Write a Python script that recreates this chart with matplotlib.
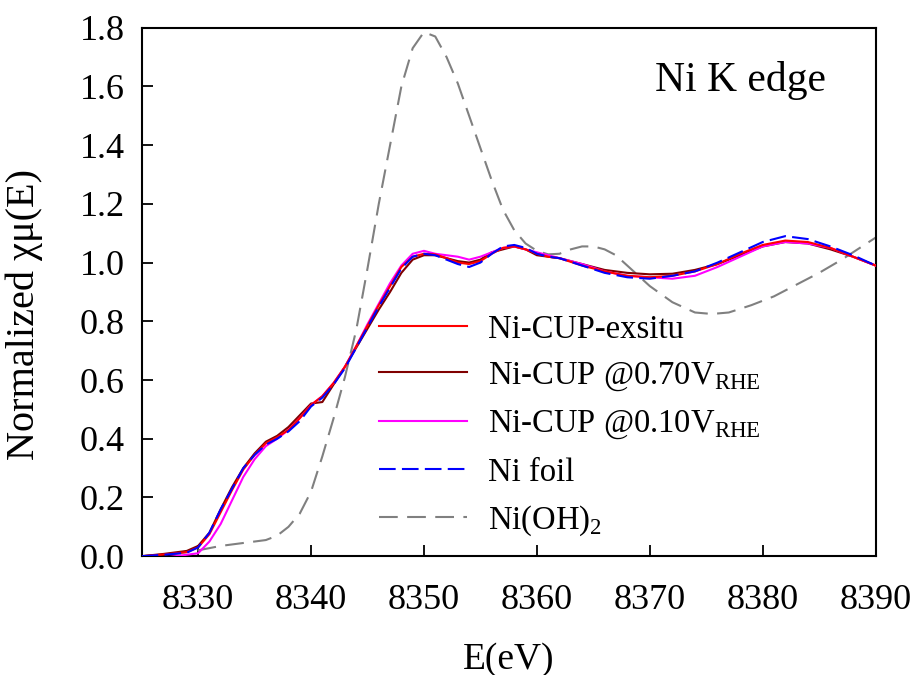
import matplotlib
matplotlib.use('Agg')
import matplotlib.pyplot as plt

plt.rcParams['font.family'] = ['Liberation Serif', 'DejaVu Serif']
plt.rcParams['mathtext.fontset'] = 'custom'
plt.rcParams['mathtext.rm'] = 'Liberation Serif'

# energies for the Ni-CUP samples and Ni foil (eV)
e_cup = [8325, 8327, 8329, 8330, 8331, 8332, 8333, 8334, 8335, 8336, 8337, 8338, 8339,
         8340, 8341, 8342, 8343, 8344, 8345, 8346, 8347, 8348, 8349, 8350, 8351, 8352,
         8353, 8354, 8355, 8356, 8357, 8358, 8359, 8360, 8361, 8362, 8364, 8366, 8368,
         8370, 8372, 8374, 8376, 8378, 8380, 8382, 8384, 8386, 8388, 8390]

mu_foil = [0.0, 0.005, 0.012, 0.03, 0.08, 0.16, 0.23, 0.30, 0.345, 0.38, 0.40, 0.425, 0.46,
           0.51, 0.54, 0.585, 0.64, 0.71, 0.78, 0.85, 0.915, 0.98, 1.02, 1.03, 1.025, 1.01,
           0.995, 0.985, 1.0, 1.03, 1.055, 1.06, 1.05, 1.03, 1.02, 1.015, 0.99, 0.965, 0.95,
           0.945, 0.955, 0.97, 1.0, 1.035, 1.07, 1.09, 1.08, 1.055, 1.025, 0.99]

mu_exsitu = [0.0, 0.006, 0.014, 0.03, 0.075, 0.15, 0.225, 0.295, 0.345, 0.385, 0.405, 0.43, 0.47,
             0.515, 0.545, 0.59, 0.645, 0.715, 0.785, 0.855, 0.92, 0.985, 1.02, 1.03, 1.028, 1.015,
             1.0, 0.995, 1.005, 1.03, 1.05, 1.055, 1.045, 1.03, 1.02, 1.015, 0.99, 0.97, 0.955,
             0.95, 0.955, 0.97, 0.995, 1.03, 1.06, 1.075, 1.07, 1.05, 1.02, 0.99]

mu_070 = [0.0, 0.008, 0.018, 0.035, 0.08, 0.16, 0.235, 0.30, 0.35, 0.39, 0.41, 0.44, 0.48,
          0.52, 0.525, 0.585, 0.645, 0.71, 0.775, 0.84, 0.9, 0.965, 1.01, 1.025, 1.025, 1.015,
          1.005, 1.0, 1.01, 1.035, 1.045, 1.055, 1.045, 1.025, 1.02, 1.015, 0.995, 0.975, 0.965,
          0.96, 0.962, 0.975, 0.995, 1.025, 1.055, 1.07, 1.065, 1.045, 1.02, 0.99]

mu_010 = [0.0, -0.005, 0.005, 0.01, 0.05, 0.11, 0.19, 0.27, 0.33, 0.375, 0.40, 0.43, 0.47,
          0.515, 0.545, 0.59, 0.645, 0.715, 0.79, 0.86, 0.93, 0.99, 1.03, 1.04, 1.03, 1.025,
          1.02, 1.01, 1.02, 1.035, 1.05, 1.055, 1.045, 1.035, 1.025, 1.015, 0.995, 0.97, 0.955,
          0.95, 0.945, 0.955, 0.985, 1.02, 1.055, 1.07, 1.065, 1.05, 1.02, 0.99]

# Ni(OH)2 reference
e_oh = [8325, 8328, 8330, 8332, 8334, 8336, 8337, 8338, 8339, 8340, 8341, 8342, 8343, 8344,
        8345, 8346, 8347, 8348, 8349, 8350, 8351, 8352, 8353, 8354, 8355, 8356, 8357, 8358,
        8359, 8360, 8361, 8362, 8363, 8364, 8365, 8366, 8367, 8368, 8369, 8370, 8372, 8374,
        8375.5, 8377, 8379, 8381, 8383, 8385, 8387, 8389, 8390]
mu_oh = [0.0, 0.008, 0.02, 0.035, 0.045, 0.055, 0.07, 0.1, 0.145, 0.22, 0.34, 0.47, 0.61, 0.77,
         0.98, 1.2, 1.4, 1.6, 1.73, 1.785, 1.77, 1.7, 1.61, 1.5, 1.39, 1.28, 1.18, 1.11,
         1.065, 1.04, 1.028, 1.03, 1.045, 1.055, 1.055, 1.045, 1.025, 0.99, 0.955, 0.92, 0.865,
         0.83, 0.825, 0.83, 0.855, 0.885, 0.925, 0.965, 1.01, 1.06, 1.085]

labels = ['Ni-CUP-exsitu',
          r'Ni-CUP @0.70V$_\mathregular{RHE}$',
          r'Ni-CUP @0.10V$_\mathregular{RHE}$',
          'Ni foil',
          r'Ni(OH)$_\mathregular{2}$']

fig = plt.figure(figsize=(9.14, 6.75), dpi=100)
ax = fig.add_axes([0.155, 0.176, 0.803, 0.783])

lw = 1.5
ax.plot(e_cup, mu_exsitu, color='#ff0000', lw=lw, label=labels[0], zorder=4)
ax.plot(e_cup, mu_070, color='#800000', lw=lw, label=labels[1], zorder=3)
ax.plot(e_cup, mu_010, color='#ff00ff', lw=lw, label=labels[2], zorder=3)
ax.plot(e_cup, mu_foil, color='#0000ff', lw=lw, ls=(0, (8, 3)), label=labels[3], zorder=5)
ax.plot(e_oh, mu_oh, color='#808080', lw=lw, ls=(0, (9, 4.5)), label=labels[4], zorder=2)

ax.set_xlim(8325, 8390)
ax.set_ylim(0, 1.8)
ax.set_xticks(range(8330, 8391, 10))
ax.set_yticks([0.0, 0.2, 0.4, 0.6, 0.8, 1.0, 1.2, 1.4, 1.6, 1.8])
ax.set_yticklabels(['%.1f' % v for v in ax.get_yticks()])
ax.tick_params(direction='in', length=8, width=1.3, labelsize=26)
ax.tick_params(axis='x', pad=20)
ax.tick_params(axis='y', pad=12)
for s in ax.spines.values():
    s.set_linewidth(1.5)

ax.set_xlabel('E(eV)', fontsize=27, labelpad=18)
ax.set_ylabel('Normalized χμ(E)', fontsize=29)
ax.yaxis.set_label_coords(-0.135, 0.458)
ax.text(0.699, 0.90, 'Ni K edge', transform=ax.transAxes, fontsize=30, va='center')

ax.legend(loc='lower left', bbox_to_anchor=(0.324, 0.035), frameon=False, fontsize=23.5,
          handlelength=2.67, handletextpad=0.64, labelspacing=0.48,
          borderpad=0, borderaxespad=0)

fig.savefig('out.png', dpi=100)
